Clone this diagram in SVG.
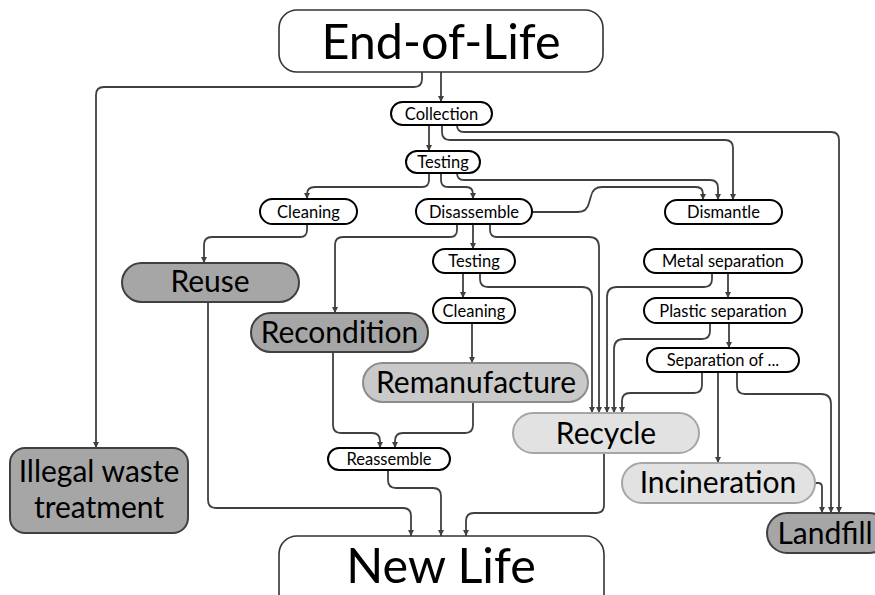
<svg xmlns="http://www.w3.org/2000/svg" width="875" height="595" viewBox="0 0 875 595">
<defs>
<marker id="ah" markerUnits="userSpaceOnUse" markerWidth="8" markerHeight="8" refX="6" refY="3" orient="auto">
<path d="M0,0 L6,3 L0,6 Z" fill="#404040"/>
</marker>
<style>
.c{fill:none;stroke:#404040;stroke-width:1.8;marker-end:url(#ah)}
.s rect{fill:#fff;stroke:#000;stroke-width:2}
.s text{font-family:Lato,"Liberation Sans",sans-serif;font-size:16.5px;fill:#000;text-anchor:middle}
.big rect{fill:#fff;stroke:#333;stroke-width:1.6}
.big text{font-family:Lato,"Liberation Sans",sans-serif;font-size:48.5px;fill:#000;text-anchor:middle}
.dk rect{fill:#a6a6a6;stroke:#404040;stroke-width:2}
.md rect{fill:#c9c9c9;stroke:#8c8c8c;stroke-width:2}
.lt rect{fill:#e2e2e2;stroke:#a6a6a6;stroke-width:2}
.m text{font-family:Lato,"Liberation Sans",sans-serif;font-size:30px;fill:#000;text-anchor:middle}
</style>
</defs>
<rect width="875" height="595" fill="#fff"/>
<g id="connectors">
<path class="c" d="M441,72 V102"/>
<path class="c" d="M422,72 V79 Q422,87 414,87 H104 Q96,87 96,95 V448"/>
<path class="c" d="M429,125 V151"/>
<path class="c" d="M442,125 V132 Q442,140 450,140 H725 Q733,140 733,148 V200"/>
<path class="c" d="M457,125 Q457,132 464,132 H831 Q839,132 839,140 V513"/>
<path class="c" d="M429,173 V180 Q429,187 422,187 H315 Q307,187 307,194 V199"/>
<path class="c" d="M441,173 V180 Q441,187 448,187 H466 Q473,187 473,194 V199"/>
<path class="c" d="M457,173 Q457,180 464,180 H710 Q718,180 718,188 V200"/>
<path class="c" d="M532,212 H578 Q587,212 589,203 L591,196 Q593,187 602,187 H696 Q703,187 703,194 V200"/>
<path class="c" d="M307,224 V230 Q307,237 300,237 H212 Q204,237 204,245 V263"/>
<path class="c" d="M457,224 V230 Q457,237 450,237 H343 Q335,237 335,245 V313"/>
<path class="c" d="M473,224 V249"/>
<path class="c" d="M490,224 V230 Q490,237 497,237 H589 Q599,237 599,247 V413"/>
<path class="c" d="M463,273 V298"/>
<path class="c" d="M472,323 V363"/>
<path class="c" d="M480,273 V279 Q480,287 488,287 H582 Q592,287 592,297 V413"/>
<path class="c" d="M712,273 V279 Q712,287 704,287 H617 Q607,287 607,297 V413"/>
<path class="c" d="M728,273 V298"/>
<path class="c" d="M710,323 V331 Q710,339 702,339 H624 Q614,339 614,349 V413"/>
<path class="c" d="M729,323 V348"/>
<path class="c" d="M702,372 V385 Q702,393 694,393 H630 Q622,393 622,401 V413"/>
<path class="c" d="M718,372 V463"/>
<path class="c" d="M737,372 V386 Q737,394 745,394 H821 Q831,394 831,404 V513"/>
<path class="c" d="M815,483 H818 Q822,483 822,487 V513"/>
<path class="c" d="M208,302 V500 Q208,508 216,508 H403 Q411,508 411,516 V536"/>
<path class="c" d="M333,352 V425 Q333,433 341,433 H372 Q380,433 380,441 V448"/>
<path class="c" d="M473,402 V425 Q473,433 465,433 H403 Q395,433 395,441 V448"/>
<path class="c" d="M388,470 V480 Q388,488 396,488 H433 Q441,488 441,496 V536"/>
<path class="c" d="M604,453 V505 Q604,513 596,513 H474 Q466,513 466,521 V536"/>
</g>
<g id="end-of-life" class="big"><rect x="279" y="10" width="324" height="62" rx="18"/><text x="441" y="59">End-of-Life</text></g>
<g id="new-life" class="big"><rect x="279" y="536" width="325" height="80" rx="18"/><text x="441" y="583">New Life</text></g>
<g id="collection" class="s"><rect x="391" y="102" width="101" height="23" rx="11.5"/><text x="441.5" y="119.5">Collection</text></g>
<g id="testing1" class="s"><rect x="406" y="151" width="74" height="22" rx="11"/><text x="443" y="167.5">Testing</text></g>
<g id="cleaning1" class="s"><rect x="260" y="199" width="97" height="25" rx="12.5"/><text x="308.5" y="217.5">Cleaning</text></g>
<g id="disassemble" class="s"><rect x="416" y="199" width="116" height="25" rx="12.5"/><text x="474" y="217.5">Disassemble</text></g>
<g id="dismantle" class="s"><rect x="665" y="200" width="117" height="24" rx="12"/><text x="723.5" y="217.5">Dismantle</text></g>
<g id="testing2" class="s"><rect x="433" y="249" width="82" height="24" rx="12"/><text x="474" y="266.5">Testing</text></g>
<g id="cleaning2" class="s"><rect x="433" y="298" width="82" height="25" rx="12.5"/><text x="474" y="316.5">Cleaning</text></g>
<g id="metal" class="s"><rect x="644" y="249" width="158" height="24" rx="12"/><text x="723" y="266.5">Metal separation</text></g>
<g id="plastic" class="s"><rect x="644" y="298" width="158" height="25" rx="12.5"/><text x="723" y="316.5">Plastic separation</text></g>
<g id="separation" class="s"><rect x="647" y="348" width="152" height="24" rx="12"/><text x="723" y="365.5">Separation of ...</text></g>
<g id="reassemble" class="s"><rect x="328" y="448" width="122" height="22" rx="11"/><text x="389" y="465">Reassemble</text></g>
<g id="reuse" class="dk m"><rect x="122" y="263" width="177" height="39" rx="19.5"/><text x="210" y="292">Reuse</text></g>
<g id="recondition" class="dk m"><rect x="251" y="313" width="177" height="39" rx="19.5"/><text x="339.5" y="343">Recondition</text></g>
<g id="remanufacture" class="md m"><rect x="363" y="363" width="225" height="39" rx="19.5"/><text x="476" y="393">Remanufacture</text></g>
<g id="recycle" class="lt m"><rect x="513" y="413" width="186" height="40" rx="20"/><text x="606" y="444">Recycle</text></g>
<g id="incineration" class="lt m"><rect x="622" y="463" width="193" height="40" rx="20"/><text x="718" y="493">Incineration</text></g>
<g id="landfill" class="dk m"><rect x="767" y="513" width="122" height="40" rx="20"/><text x="825" y="544">Landfill</text></g>
<g id="illegal" class="dk m"><rect x="10" y="448" width="178" height="85" rx="15"/><text x="99" y="482">Illegal waste</text><text x="99" y="518">treatment</text></g>
</svg>
